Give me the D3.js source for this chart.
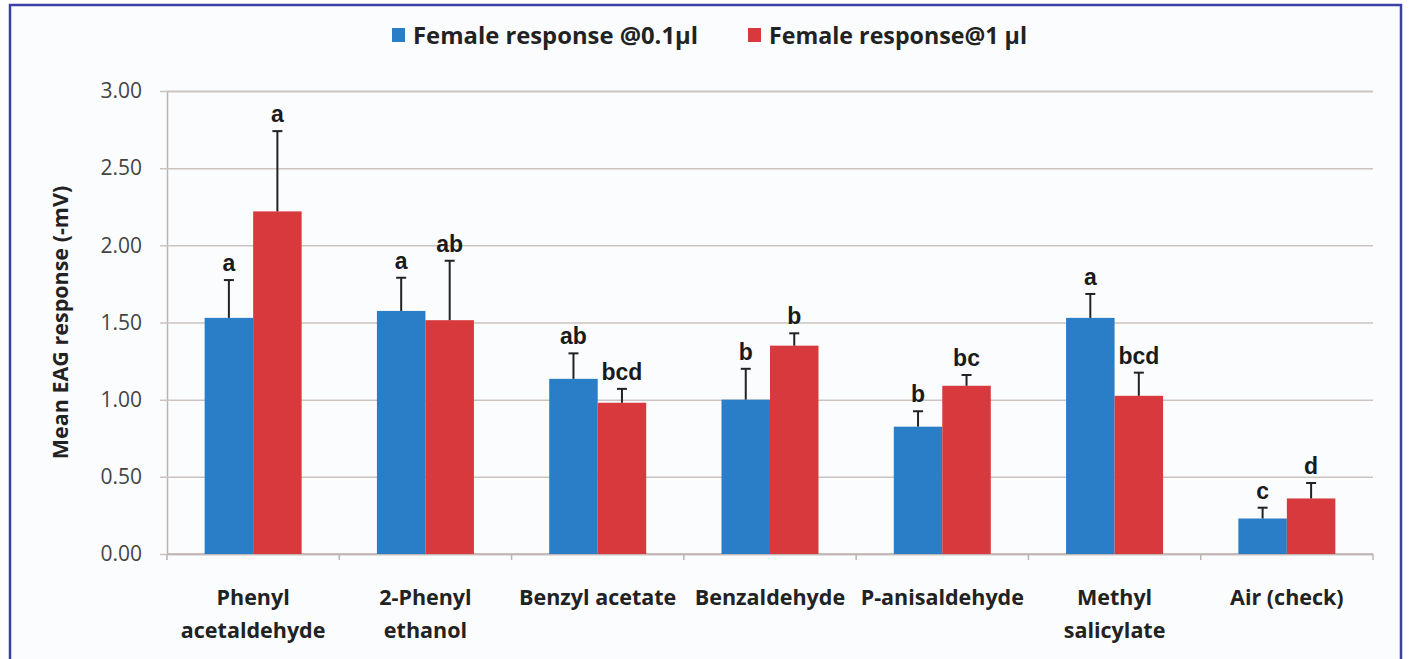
<!DOCTYPE html>
<html>
<head>
<meta charset="utf-8">
<script src="https://cdn.jsdelivr.net/npm/d3@7"></script>
<style>
  html, body { margin: 0; padding: 0; background: #ffffff; }
  svg { display: block; }
</style>
</head>
<body>
<svg id="chart" width="1410" height="659"></svg>
<script>
// Odour compounds tested (two-line labels split with "\n")
const categories = [
  "Phenyl\nacetaldehyde", "2-Phenyl\nethanol", "Benzyl acetate", "Benzaldehyde",
  "P-anisaldehyde", "Methyl\nsalicylate", "Air (check)"
];
const seriesNames = ["Female response @0.1µl", "Female response@1 µl"];

// Mean EAG response (-mV)
const low  = [1.53, 1.575, 1.135, 1.00, 0.825, 1.53, 0.23];
const high = [2.22, 1.515, 0.98, 1.35, 1.09, 1.025, 0.36];
// Upper end of the error bars
const lowErr  = [1.775, 1.79, 1.30, 1.20, 0.925, 1.685, 0.30];
const highErr = [2.74, 1.90, 1.07, 1.43, 1.16, 1.175, 0.46];
// Significance letters
const lowLetters  = ["a", "a", "ab", "b", "b", "a", "c"];
const highLetters = ["a", "ab", "bcd", "b", "bc", "bcd", "d"];

const yTicks = [0, 0.5, 1, 1.5, 2, 2.5, 3];

const colors = ["#2a7dc7", "#d8393c"];
const uiFont = "'Open Sans', 'Liberation Sans', sans-serif";

const svg = d3.select("#chart");
const W = 1410, H = 659;

// Framed panel
svg.append("rect").attr("x", 0).attr("y", 0).attr("width", W).attr("height", H).attr("fill", "#ffffff");
svg.append("rect")
  .attr("x", 10).attr("y", 5).attr("width", 1391).attr("height", 670)
  .attr("fill", "#fbfcfe").attr("stroke", "#3b3fa6").attr("stroke-width", 2.5);

const margin = { left: 167, right: 1373, top: 91, bottom: 554 };

const x = d3.scaleBand().domain(d3.range(categories.length))
  .range([margin.left, margin.right]).paddingInner(0).paddingOuter(0);
const groupW = 97;
const xs = d3.scaleBand().domain([0, 1]).range([0, groupW]);

const y = d3.scaleLinear().domain([0, 3]).range([margin.bottom, margin.top]);

// Gridlines + y axis
const yAxis = d3.axisLeft(y).tickValues(yTicks).tickFormat(d3.format(".2f"))
  .tickSize(-(margin.right - margin.left)).tickPadding(25);
const gy = svg.append("g").attr("transform", `translate(${margin.left},0)`).call(yAxis);
gy.select(".domain").attr("stroke", "#bdb4b0").attr("stroke-width", 1.5);
gy.selectAll(".tick line").attr("stroke", "#cbc3bf").attr("stroke-width", 1.5).attr("x1", -7);
gy.selectAll(".tick text")
  .attr("font-family", uiFont)
  .attr("font-size", 21).attr("fill", "#444");

// X axis baseline with ticks at category boundaries
const gx = svg.append("g").attr("transform", `translate(0,${margin.bottom})`);
gx.append("line").attr("x1", margin.left).attr("x2", margin.right)
  .attr("stroke", "#bdb4b0").attr("stroke-width", 1.5);
gx.selectAll("line.tk").data(d3.range(categories.length + 1)).join("line")
  .attr("class", "tk")
  .attr("x1", i => margin.left + i * x.bandwidth())
  .attr("x2", i => margin.left + i * x.bandwidth())
  .attr("y1", 0).attr("y2", 6)
  .attr("stroke", "#bdb4b0").attr("stroke-width", 1.5);

// Category labels
const catG = svg.append("g");
categories.forEach((c, i) => {
  const cx = x(i) + x.bandwidth() / 2;
  const lines = c.split("\n");
  const t = catG.append("text")
    .attr("x", cx).attr("y", 605).attr("text-anchor", "middle")
    .attr("font-family", uiFont)
    .attr("font-weight", "bold").attr("font-size", 21.5).attr("fill", "#222");
  lines.forEach((ln, k) => {
    t.append("tspan").attr("x", cx).attr("dy", k === 0 ? 0 : 33).text(ln);
  });
});

// Bars, error bars, letters
const series = [
  { vals: low, err: lowErr, letters: lowLetters },
  { vals: high, err: highErr, letters: highLetters }
];
const bars = svg.append("g");
series.forEach((s, si) => {
  const gs = bars.append("g");
  s.vals.forEach((v, i) => {
    const bx = x(i) + (x.bandwidth() - groupW) / 2 + xs(si);
    const cx = bx + xs.bandwidth() / 2;
    gs.append("rect")
      .attr("x", bx).attr("y", y(v))
      .attr("width", xs.bandwidth()).attr("height", y(0) - y(v))
      .attr("fill", colors[si]);
    gs.append("line")
      .attr("x1", cx).attr("x2", cx).attr("y1", y(v)).attr("y2", y(s.err[i]))
      .attr("stroke", "#222").attr("stroke-width", 2);
    gs.append("line")
      .attr("x1", cx - 5).attr("x2", cx + 5).attr("y1", y(s.err[i])).attr("y2", y(s.err[i]))
      .attr("stroke", "#222").attr("stroke-width", 2);
    gs.append("text")
      .attr("x", cx).attr("y", y(s.err[i]) - 9).attr("text-anchor", "middle")
      .attr("font-family", "'Liberation Sans', Arial, sans-serif")
      .attr("font-weight", "bold").attr("font-size", 23).attr("fill", "#1a1a1a")
      .text(s.letters[i]);
  });
});

// Y axis title
svg.append("text")
  .attr("transform", `translate(68,${(margin.top + margin.bottom) / 2}) rotate(-90)`)
  .attr("text-anchor", "middle")
  .attr("font-family", uiFont)
  .attr("font-weight", "bold").attr("font-size", 21.5).attr("fill", "#222")
  .text("Mean EAG response (-mV)");

// Legend
const legend = svg.append("g");
const legX = [392, 748];
const legW = [285, 258];
seriesNames.forEach((n, i) => {
  legend.append("rect").attr("x", legX[i]).attr("y", 28).attr("width", 13).attr("height", 14)
    .attr("fill", colors[i]);
  legend.append("text").attr("x", legX[i] + 21).attr("y", 44)
    .attr("font-family", uiFont)
    .attr("font-weight", "bold").attr("font-size", 23).attr("fill", "#222")
    .attr("textLength", legW[i]).attr("lengthAdjust", "spacingAndGlyphs")
    .text(n);
});
</script>
</body>
</html>
